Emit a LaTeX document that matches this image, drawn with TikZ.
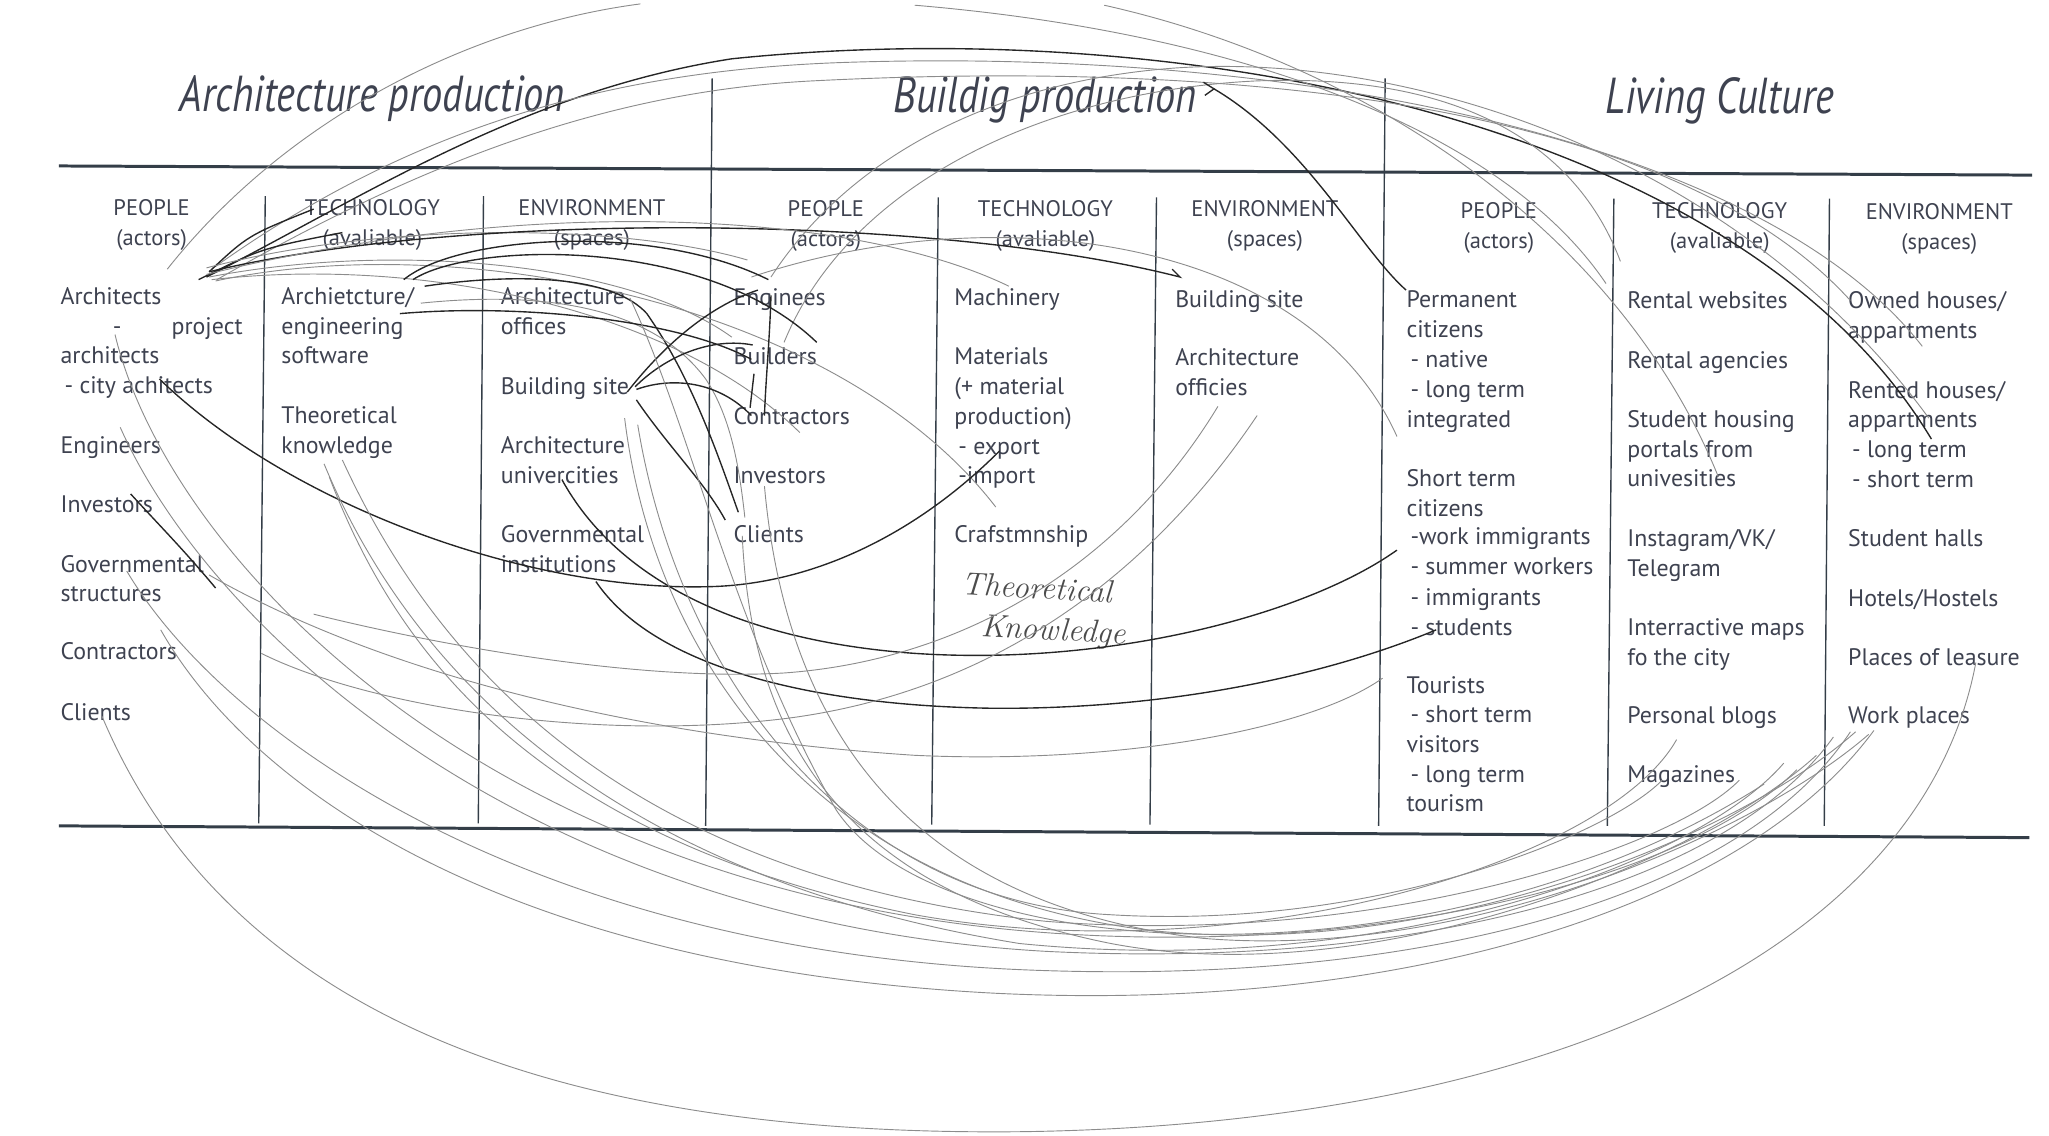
\documentclass[tikz,border=0pt]{standalone}
\usepackage{fontspec}
\setsansfont{PT Sans}
\newfontfamily\titlefont[FakeStretch=0.8]{PT Sans}
\usetikzlibrary{positioning}

\definecolor{printgray}{RGB}{62,66,80}
\definecolor{rulegray}{RGB}{52,62,72}
\tikzset{
  item/.style={anchor=base west, inner sep=0pt, text=printgray, font=\sffamily\fontsize{10.4}{12}\selectfont},
  head/.style={anchor=base, inner sep=0pt, text=printgray, font=\sffamily\fontsize{9.8}{12}\selectfont},
  maintitle/.style={anchor=base, inner sep=0pt, text=printgray, font=\titlefont\itshape\fontsize{22}{26}\selectfont},
  hand/.style={anchor=base west, inner sep=0pt, text=black!70, font=\itshape\fontsize{14}{16}\selectfont},
  rule/.style={draw=rulegray, line width=1.3pt},
  colline/.style={draw=rulegray, line width=0.6pt},
  pencil/.style={draw=black!45, line width=0.4pt},
  ink/.style={draw=black!85, line width=0.6pt},
}

\begin{document}
\begin{tikzpicture}[x=0.2mm, y=-0.2mm]
\useasboundingbox (0,0) rectangle (1568,869);

% titles
\node[maintitle] (tArch) at (285,85) {Architecture production};
\node[maintitle] (tBuild) at (800,86) {Buildig production};
\node[maintitle] (tLiving) at (1316,87) {Living Culture};

% table rules
\draw[rule] (45,127) -- (1555,134);
\draw[rule] (45,632) -- (1553,641);
\foreach \xa/\xb in {545/540, 1060/1055}
  \draw[colline] (\xa,60) -- (\xb,632);
\foreach \xa/\xb/\ya in {203/198/150, 370/366/150, 718/713/151, 885/880/151, 1235/1230/152, 1400/1396/152}
  \draw[colline] (\xa,\ya) -- (\xb,\ya+480);

% column heads
\foreach \x/\a/\b/\y in {116/PEOPLE/(actors)/165, 285/TECHNOLOGY/(avaliable)/165, 453/ENVIRONMENT/(spaces)/165,
                         632/PEOPLE/(actors)/166, 800/TECHNOLOGY/(avaliable)/166, 968/ENVIRONMENT/(spaces)/166,
                         1147/PEOPLE/(actors)/167, 1316/TECHNOLOGY/(avaliable)/167, 1484/ENVIRONMENT/(spaces)/168} {
  \node[head] (ha\x) at (\x,\y) {\a};
  \node[head] (hb\x) at (\x,\y+23) {\b};
}

% Architecture production
\foreach \y/\t [count=\i] in {233/Architects, 278/architects, 301/{\,- city achitects}, 347/Engineers, 392/Investors,
                              438/Governmental, 460/structures, 505/Contractors, 551/Clients}
  \node[item] (c1-\i) at (46,\y) {\t};
\node[item] (c1-dash) at (86,256) {-};
\node[item] (c1-proj) at (131,256) {project};
\foreach \y/\t [count=\i] in {233/{Archietcture/}, 256/engineering, 278/software, 324/Theoretical, 347/knowledge}
  \node[item] (c2-\i) at (215,\y) {\t};
\foreach \y/\t [count=\i] in {233/Architecture, 256/offices, 302/Building site, 347/Architecture, 370/univercities,
                              415/Governmental, 438/institutions}
  \node[item] (c3-\i) at (383,\y) {\t};

% Buildig production
\foreach \y/\t [count=\i] in {234/Enginees, 279/Builders, 325/Contractors, 370/Investors, 415/Clients}
  \node[item] (c4-\i) at (561,\y) {\t};
\foreach \y/\t [count=\i] in {234/Machinery, 279/Materials, 302/{(+ material}, 325/{production)}, 348/{\,- export},
                              370/{\,-import}, 415/Crafstmnship}
  \node[item] (c5-\i) at (730,\y) {\t};
\foreach \y/\t [count=\i] in {235/Building site, 280/Architecture, 303/officies}
  \node[item] (c6-\i) at (899,\y) {\t};
\node[hand, rotate=-3] (hand1) at (735,455) {Theoretical};
\node[hand, rotate=-3] (hand2) at (750,487) {Knowledge};

% Living Culture
\foreach \y/\t [count=\i] in {235/Permanent, 258/citizens, 281/{\,- native}, 304/{\,- long term}, 327/integrated,
                              372/Short term, 395/citizens, 417/{\,-work immigrants}, 440/{\,- summer workers},
                              463/{\,- immigrants}, 486/{\,- students}, 531/Tourists, 553/{\,- short term},
                              576/visitors, 599/{\,- long term}, 621/tourism}
  \node[item] (c7-\i) at (1076,\y) {\t};
\foreach \y/\t [count=\i] in {236/Rental websites, 282/Rental agencies, 327/Student housing, 350/portals from,
                              372/univesities, 418/{Instagram/VK/}, 441/Telegram, 486/Interractive maps,
                              509/fo the city, 554/Personal blogs, 599/Magazines}
  \node[item] (c8-\i) at (1245,\y) {\t};
\foreach \y/\t [count=\i] in {236/{Owned houses/}, 259/appartments, 305/{Rented houses/}, 327/appartments,
                              350/{\,- long term}, 373/{\,- short term}, 418/Student halls, 464/{Hotels/Hostels},
                              509/Places of leasure, 554/Work places}
  \node[item] (c9-\i) at (1414,\y) {\t};

% pencil strokes over the top
\coordinate (hub) at (160,208);
\draw[pencil] (128,206) .. controls (220,90) and (360,20) .. (490,3);
\draw[ink] (158,212) .. controls (280,150) and (400,70) .. (560,45) .. controls (900,10) and (1330,90) .. (1478,336);
\draw[pencil] (162,206) .. controls (310,100) and (460,55) .. (640,48) .. controls (1000,35) and (1350,110) .. (1471,265);
\draw[pencil] (166,214) .. controls (330,120) and (470,70) .. (620,62) .. controls (950,45) and (1280,80) .. (1416,230);
\draw[pencil] (590,212) .. controls (650,120) and (760,62) .. (900,52) .. controls (1080,40) and (1330,120) .. (1476,320);
\draw[pencil] (600,262) .. controls (650,140) and (800,70) .. (960,62) .. controls (1130,55) and (1210,120) .. (1240,200);
\draw[pencil] (700,4) .. controls (950,25) and (1150,100) .. (1229,217);
\draw[pencil] (845,4) .. controls (1050,50) and (1240,180) .. (1315,365);
\draw[ink] (929,68) .. controls (1000,110) and (1040,190) .. (1076,222);
\draw[ink] (921,63) -- (929,68) -- (922,73);

% strokes across the heads
\draw[ink] (hub) .. controls (190,180) .. (240,160);
\draw[ink] (152,214) .. controls (200,190) .. (262,178);
\draw[pencil] (158,205) .. controls (300,168) and (480,172) .. (572,199);
\draw[ink] (hub) .. controls (360,160) and (720,165) .. (903,212) -- (897,206);
\draw[pencil] (158,210) .. controls (400,150) and (650,160) .. (772,219);
\draw[pencil] (160,212) .. controls (300,185) and (480,200) .. (560,258);
\draw[pencil] (162,214) .. controls (330,195) and (520,240) .. (612,331);
\draw[pencil] (165,215) .. controls (350,175) and (640,230) .. (762,388);
\draw[pencil] (575,212) .. controls (760,150) and (1000,180) .. (1069,334);

% strokes from the software and offices
\draw[ink] (309,214) .. controls (350,180) and (500,170) .. (588,214);
\draw[ink] (316,214) .. controls (360,185) and (540,180) .. (625,262);
\draw[ink] (325,219) .. controls (400,208) and (470,212) .. (495,240) .. controls (530,290) and (550,350) .. (565,392);
\draw[pencil] (322,232) .. controls (420,222) and (500,236) .. (540,290) .. controls (560,320) and (566,360) .. (570,396);
\draw[ink] (306,240) .. controls (400,232) and (520,245) .. (575,275);

% strokes from the building site
\draw[ink] (486,296) .. controls (510,272) and (545,258) .. (576,264);
\draw[ink] (480,300) .. controls (505,268) and (540,235) .. (580,222);
\draw[ink] (487,298) .. controls (515,288) and (550,292) .. (575,318);
\draw[ink] (487,306) .. controls (510,340) and (540,370) .. (555,398);
\draw[ink] (590,226) .. controls (589,260) and (586,290) .. (585,318);
\draw[ink] (577,286) -- (574,312);

% strokes across the middle
\draw[ink] (765,345) .. controls (700,410) and (620,448) .. (540,449) .. controls (400,452) and (220,385) .. (122,290);
\draw[ink] (430,367) .. controls (470,440) and (560,490) .. (700,500) .. controls (850,510) and (1000,470) .. (1069,421);
\draw[ink] (456,445) .. controls (500,510) and (620,540) .. (760,542) .. controls (900,543) and (1020,515) .. (1099,482);
\draw[pencil] (160,440) .. controls (300,520) and (500,565) .. (700,578) .. controls (850,585) and (1000,560) .. (1058,519);
\draw[pencil] (932,311) .. controls (860,430) and (740,505) .. (600,515) .. controls (480,522) and (320,490) .. (240,470);
\draw[pencil] (962,318) .. controls (880,440) and (760,530) .. (600,550) .. controls (450,568) and (280,540) .. (200,500);

% strokes round the bottom
\draw[pencil] (78,548) .. controls (180,790) and (450,870) .. (784,866) .. controls (1180,860) and (1470,730) .. (1512,507);
\draw[pencil] (123,482) .. controls (190,600) and (380,740) .. (760,760) .. controls (1060,775) and (1330,700) .. (1434,559);
\draw[pencil] (97,437) .. controls (170,560) and (400,725) .. (780,742) .. controls (1080,755) and (1330,690) .. (1416,560);
\draw[pencil] (92,327) .. controls (160,480) and (400,705) .. (800,728) .. controls (1080,742) and (1320,680) .. (1403,564);
\draw[pencil] (88,256) .. controls (130,430) and (380,690) .. (820,715) .. controls (1080,730) and (1300,665) .. (1375,589);
\draw[ink] (100,378) .. controls (120,400) and (140,420) .. (165,450);
\draw[pencil] (248,355) .. controls (300,480) and (430,665) .. (780,722) .. controls (1060,750) and (1300,660) .. (1365,584);
\draw[pencil] (262,352) .. controls (330,500) and (470,670) .. (800,705) .. controls (1050,725) and (1280,650) .. (1331,597);
\draw[pencil] (252,365) .. controls (300,490) and (400,640) .. (700,700) .. controls (950,745) and (1230,660) .. (1283,566);
\draw[pencil] (488,325) .. controls (520,520) and (650,690) .. (850,700) .. controls (1050,712) and (1230,640) .. (1272,597);
\draw[pencil] (478,320) .. controls (500,500) and (620,680) .. (880,712) .. controls (1100,735) and (1330,640) .. (1420,560);
\draw[pencil] (585,372) .. controls (600,540) and (680,690) .. (920,718) .. controls (1120,735) and (1340,640) .. (1430,562);
\draw[pencil] (568,410) .. controls (575,560) and (640,680) .. (850,722) .. controls (1050,760) and (1300,660) .. (1390,578);
\draw[pencil] (482,228) .. controls (530,330) and (560,480) .. (640,620) .. controls (720,740) and (1100,760) .. (1350,600);
\end{tikzpicture}
\end{document}
